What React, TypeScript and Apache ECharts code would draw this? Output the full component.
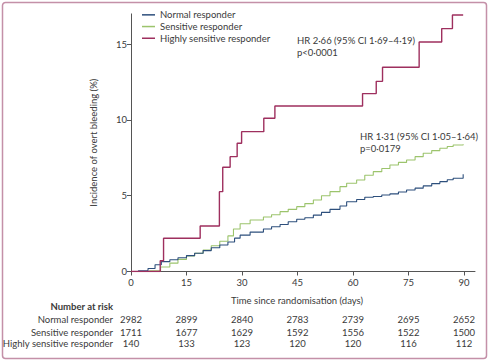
import React, { useEffect, useRef } from "react";
import * as echarts from "echarts";

const tickDays = [0, 15, 30, 45, 60, 75, 90];
const yTicks = [0, 5, 10, 15];

const seriesNames = ["Normal responder", "Sensitive responder", "Highly sensitive responder"];

const normalData: [number, number][] = [
  [0, 0], [2, 0.05], [4.6, 0.2], [6.5, 0.45], [8.2, 0.65], [10.5, 0.78], [12.7, 0.91], [15, 1.05],
  [17.2, 1.2], [19.5, 1.38], [21.7, 1.57], [24, 1.75], [26.2, 1.95], [28, 2.2], [29.5, 2.4],
  [32.2, 2.6], [35.8, 2.8], [38, 2.95], [40.3, 3.1], [42.5, 3.28], [44.8, 3.45], [47, 3.55],
  [49.3, 3.72], [51.5, 3.9], [53.8, 4.1], [56.5, 4.32], [58.3, 4.6], [61, 4.75], [63.2, 4.9],
  [65.5, 4.95], [67.8, 5.05], [70, 5.12], [72.3, 5.25], [74.5, 5.38], [76.8, 5.5], [79, 5.65],
  [81.3, 5.8], [83.5, 5.93], [85.5, 6.05], [87.1, 6.15], [89.8, 6.42],
];

const sensitiveData: [number, number][] = [
  [0, 0], [3, 0], [5, 0.05], [8, 0.3], [10.5, 0.55], [12.7, 0.8], [15, 1.02], [17.2, 1.2],
  [19.5, 1.42], [21.7, 1.7], [24, 2.0], [26.2, 2.35], [27.7, 2.8], [29.5, 3.15], [32.2, 3.4],
  [35.8, 3.6], [38, 3.75], [40.3, 3.95], [42.5, 4.1], [44.8, 4.28], [47, 4.48], [49.3, 4.72],
  [51.5, 5.0], [53.8, 5.27], [56.5, 5.6], [58.3, 5.82], [61, 6.04], [63.2, 6.35], [65.5, 6.59],
  [67.8, 6.8], [70, 7.03], [72.3, 7.2], [74.5, 7.36], [76.8, 7.58], [79, 7.8], [81.3, 7.98],
  [83.5, 8.13], [85.5, 8.25], [87.1, 8.35], [89.8, 8.4],
];

const highlyData: [number, number][] = [
  [0, 0], [7.9, 0.71], [8.8, 2.19], [18.7, 3.0], [23.9, 5.27], [24.8, 6.88], [26.8, 7.58],
  [28.7, 8.46], [29.9, 9.23], [35.9, 10.11], [38.9, 10.92], [62.6, 11.74], [66.3, 12.55],
  [68, 13.48], [77.9, 15.15], [84, 16.03], [86.9, 16.93], [89.8, 16.93],
];

const riskNormal = [2982, 2899, 2840, 2783, 2739, 2695, 2652];
const riskSensitive = [1711, 1677, 1629, 1592, 1556, 1522, 1500];
const riskHighly = [140, 133, 123, 120, 120, 116, 112];

const hrHighly = ["HR 2·66 (95% CI 1·69–4·19)", "p<0·0001"];
const hrSensitive = ["HR 1·31 (95% CI 1·05–1·64)", "p=0·0179"];

const FONT = 'Lato, "Liberation Sans", Arial, sans-serif';
const FS = 9.5;
const TEXT = "#3a3a3a";
const AXIS = "#555555";
const COLORS = ["#2d4f7c", "#9cc46c", "#9e2f5e"];

const riskRows = [riskNormal, riskSensitive, riskHighly];
const riskOffsets = [47.5, 60.5, 72];

export default function App() {
  const ref = useRef<HTMLDivElement>(null);

  useEffect(() => {
    if (!ref.current) return;
    const chart = echarts.init(ref.current, undefined, { renderer: "svg" });

    const riskAxes = riskRows.map((row, i) => ({
      type: "value" as const,
      gridIndex: 0,
      position: "bottom" as const,
      offset: riskOffsets[i],
      min: 0,
      max: 93,
      axisLine: { show: false },
      axisTick: { show: false },
      splitLine: { show: false },
      axisLabel: {
        customValues: tickDays,
        margin: 0,
        verticalAlign: "middle" as const,
        color: TEXT,
        fontFamily: FONT,
        fontSize: FS,
        formatter: (v: number) => {
          const idx = tickDays.indexOf(Math.round(v));
          return idx >= 0 ? String(row[idx]) : "";
        },
      },
    }));

    const textEl = (x: number, y: number, text: string, align: string, bold = false) => ({
      type: "text",
      x,
      y,
      style: {
        text,
        fill: TEXT,
        font: `${bold ? "bold " : ""}${FS}px ${FONT}`,
        align,
        verticalAlign: "middle",
      },
    });

    chart.setOption({
      animation: false,
      grid: { left: 131, right: 14, top: 13.9, bottom: 89.5, containLabel: false },
      legend: {
        orient: "vertical",
        left: 137,
        top: 4,
        itemWidth: 13,
        itemHeight: 1.5,
        itemGap: 0,
        icon: "rect",
        data: seriesNames,
        textStyle: { color: TEXT, fontFamily: FONT, fontSize: FS, lineHeight: 11.7 },
      },
      xAxis: [
        {
          type: "value",
          min: 0,
          max: 93,
          axisLine: { lineStyle: { color: AXIS, width: 1 } },
          axisTick: { customValues: tickDays, length: 4, lineStyle: { color: AXIS } },
          splitLine: { show: false },
          axisLabel: { customValues: tickDays, color: TEXT, fontFamily: FONT, fontSize: FS, margin: 6 },
        },
        ...riskAxes,
      ],
      yAxis: {
        type: "value",
        min: 0,
        max: 17,
        name: "Incidence of overt bleeding (%)",
        nameLocation: "middle",
        nameGap: 33,
        nameTextStyle: { color: TEXT, fontFamily: FONT, fontSize: FS },
        axisLine: { show: true, lineStyle: { color: AXIS, width: 1 } },
        axisTick: { show: true, customValues: yTicks, length: 4, lineStyle: { color: AXIS } },
        splitLine: { show: false },
        axisLabel: { customValues: yTicks, color: TEXT, fontFamily: FONT, fontSize: FS, margin: 4 },
      },
      series: [
        {
          name: seriesNames[0],
          type: "line",
          step: "end",
          data: normalData,
          showSymbol: false,
          color: COLORS[0],
          lineStyle: { width: 1.1, color: COLORS[0] },
          z: 3,
        },
        {
          name: seriesNames[1],
          type: "line",
          step: "end",
          data: sensitiveData,
          showSymbol: false,
          color: COLORS[1],
          lineStyle: { width: 1.1, color: COLORS[1] },
          z: 2,
        },
        {
          name: seriesNames[2],
          type: "line",
          step: "end",
          data: highlyData,
          showSymbol: false,
          color: COLORS[2],
          lineStyle: { width: 1.4, color: COLORS[2] },
          z: 4,
        },
      ],
      graphic: [
        {
          type: "rect",
          shape: { x: 2.5, y: 2.5, width: 484, height: 356, r: 3 },
          style: { fill: "none", stroke: "#c490a8", lineWidth: 1.5 },
          silent: true,
        },
        textEl(297, 40, hrHighly[0], "left"),
        textEl(297, 52.5, hrHighly[1], "left"),
        textEl(360, 136.5, hrSensitive[0], "left"),
        textEl(360, 148, hrSensitive[1], "left"),
        textEl(297, 300, "Time since randomisation (days)", "center"),
        textEl(113, 306, "Number at risk", "right", true),
        textEl(113, 319, seriesNames[0], "right"),
        textEl(113, 332, seriesNames[1], "right"),
        textEl(113, 343.5, seriesNames[2], "right"),
      ],
    });

    return () => chart.dispose();
  }, []);

  return (
    <div
      ref={ref}
      style={{ position: "fixed", left: 0, top: 0, width: 489, height: 361, background: "#ffffff" }}
    />
  );
}
